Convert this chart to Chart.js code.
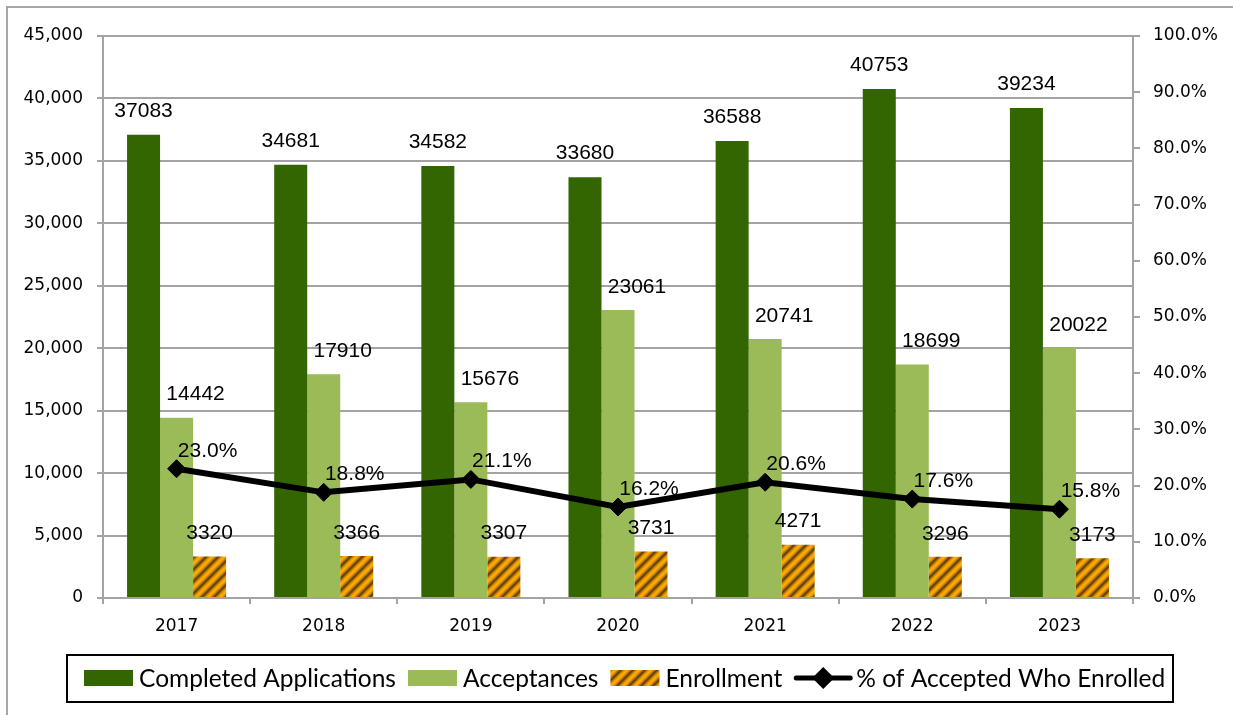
<!DOCTYPE html>
<html><head><meta charset="utf-8">
<script src="https://cdn.jsdelivr.net/npm/chart.js@4.4.1/dist/chart.umd.min.js"></script>
<style>html,body{margin:0;padding:0;background:#fff;overflow:hidden}canvas{display:block}</style>
</head><body>
<canvas id="c" width="1233" height="715"></canvas>
<script>
// ---- data ----
const categories = ['2017', '2018', '2019', '2020', '2021', '2022', '2023'];
const completedApplications = [37083, 34681, 34582, 33680, 36588, 40753, 39234];
const acceptances = [14442, 17910, 15676, 23061, 20741, 18699, 20022];
const enrollment = [3320, 3366, 3307, 3731, 4271, 3296, 3173];
const pctAcceptedWhoEnrolled = [23.0, 18.8, 21.1, 16.2, 20.6, 17.6, 15.8];
const seriesNames = ['Completed Applications', 'Acceptances', 'Enrollment', '% of Accepted Who Enrolled'];
const leftAxis = { min: 0, max: 45000, step: 5000 };
const rightAxis = { min: 0, max: 100, step: 10 };

// ---- styling ----
const GRID = '#a3a3a3';
const tickFont = { family: '"DejaVu Sans", Verdana, sans-serif', size: 17 };

function makeStripePattern() {
  const s = 12;
  const cv = document.createElement('canvas');
  cv.width = s; cv.height = s;
  const c = cv.getContext('2d');
  const img = c.createImageData(s, s);
  const orange = [255, 172, 0], dark = [95, 58, 0];
  for (let y = 0; y < s; y++) for (let x = 0; x < s; x++) {
    const t = ((x + y) % s) / s;
    const k = Math.pow(0.5 + 0.5 * Math.cos(2 * Math.PI * t), 0.6);
    const i = (y * s + x) * 4;
    for (let ch = 0; ch < 3; ch++) img.data[i + ch] = Math.round(dark[ch] + (orange[ch] - dark[ch]) * k);
    img.data[i + 3] = 255;
  }
  c.putImageData(img, 0, 0);
  return document.getElementById('c').getContext('2d').createPattern(cv, 'repeat');
}
const stripe = makeStripePattern();

const framePlugin = {
  id: 'frame',
  beforeDraw(chart) {
    const ctx = chart.ctx;
    ctx.save();
    ctx.fillStyle = '#fff';
    ctx.fillRect(0, 0, chart.width, chart.height);
    ctx.strokeStyle = '#a6a6a6';
    ctx.lineWidth = 2;
    ctx.beginPath();
    ctx.moveTo(7, 720); ctx.lineTo(7, 7); ctx.lineTo(1240, 7);
    ctx.stroke();
    ctx.restore();
  }
};

const valueLabels = {
  id: 'valueLabels',
  afterDatasetsDraw(chart, args, opts) {
    const ctx = chart.ctx;
    ctx.save();
    ctx.font = '21px "Liberation Sans", Arial, sans-serif';
    ctx.fillStyle = '#000';
    ctx.textAlign = 'center';
    ctx.textBaseline = 'middle';
    chart.data.datasets.forEach((ds, i) => {
      const meta = chart.getDatasetMeta(i);
      const off = opts.offsets[i];
      meta.data.forEach((el, j) => {
        const v = ds.data[j];
        const txt = ds.type === 'line' ? v.toFixed(1) + '%' : String(v);
        ctx.fillText(txt, el.x + off[0], el.y + off[1]);
      });
    });
    ctx.restore();
  }
};

const boxLegend = {
  id: 'boxLegend',
  afterDraw(chart) {
    const ctx = chart.ctx;
    ctx.save();
    ctx.strokeStyle = '#000';
    ctx.lineWidth = 2;
    ctx.strokeRect(67, 655, 1106, 47);
    const fam = 'Lato, "Open Sans", sans-serif';
    ctx.font = '100px ' + fam;
    const w = ctx.measureText(seriesNames[0]).width;
    const size = 100 * 257 / w;
    ctx.font = size.toFixed(2) + 'px ' + fam;
    ctx.textBaseline = 'middle';
    ctx.textAlign = 'left';
    const cy = 678;
    let x = 84;
    chart.data.datasets.forEach((ds) => {
      if (ds.type === 'line') {
        ctx.strokeStyle = '#000';
        ctx.lineWidth = 5;
        ctx.lineCap = 'round';
        ctx.beginPath(); ctx.moveTo(x + 2, cy); ctx.lineTo(x + 56, cy); ctx.stroke();
        const mx = x + 29, r = 11;
        ctx.fillStyle = '#000';
        ctx.beginPath();
        ctx.moveTo(mx - r, cy); ctx.lineTo(mx, cy - r); ctx.lineTo(mx + r, cy); ctx.lineTo(mx, cy + r);
        ctx.closePath(); ctx.fill();
        x += 62;
      } else {
        ctx.fillStyle = ds.backgroundColor;
        ctx.fillRect(x, cy - 8, 49, 16);
        x += 55;
      }
      ctx.fillStyle = '#000';
      ctx.fillText(ds.label, x, cy + 1);
      x += ctx.measureText(ds.label).width + 12;
    });
    ctx.restore();
  }
};

new Chart(document.getElementById('c'), {
  type: 'bar',
  data: {
    labels: categories,
    datasets: [
      { label: seriesNames[0], data: completedApplications, backgroundColor: '#336600', borderWidth: 0, order: 1, yAxisID: 'y' },
      { label: seriesNames[1], data: acceptances, backgroundColor: '#9bbb59', borderWidth: 0, order: 1, yAxisID: 'y' },
      { label: seriesNames[2], data: enrollment, backgroundColor: stripe, borderWidth: 0, order: 1, yAxisID: 'y' },
      { type: 'line', label: seriesNames[3], data: pctAcceptedWhoEnrolled, yAxisID: 'y1', order: 0,
        borderColor: '#000', borderWidth: 6, tension: 0, fill: false,
        pointStyle: 'rectRot', pointRadius: 9, pointBackgroundColor: '#000', pointBorderColor: '#000', pointBorderWidth: 1 }
    ]
  },
  options: {
    responsive: false,
    animation: false,
    events: [],
    datasets: { bar: { categoryPercentage: 0.673, barPercentage: 1.0 } },
    layout: { padding: { top: 36, left: 0, right: 0, bottom: 0 } },
    plugins: {
      legend: { display: false },
      tooltip: { enabled: false },
      valueLabels: { offsets: [[0, -24], [19, -23], [0, -23], [31, -18]] }
    },
    scales: {
      x: {
        grid: { offset: true, drawOnChartArea: false, drawTicks: true, tickLength: 6, color: GRID, lineWidth: 2 },
        border: { color: GRID, width: 2 },
        ticks: { font: tickFont, color: '#000', padding: 12 },
        afterFit(s) { s.height = 117; }
      },
      y: {
        position: 'left', min: leftAxis.min, max: leftAxis.max,
        ticks: { stepSize: leftAxis.step, callback: v => v.toLocaleString('en-US'), font: tickFont, color: '#000', padding: 14 },
        grid: { color: GRID, lineWidth: 2, tickLength: 6 },
        border: { color: GRID, width: 2 },
        afterFit(s) { s.width = 103; }
      },
      y1: {
        position: 'right', min: rightAxis.min, max: rightAxis.max,
        ticks: { stepSize: rightAxis.step, callback: v => v.toFixed(1) + '%', font: tickFont, color: '#000', padding: 13 },
        grid: { drawOnChartArea: false, tickLength: 7, color: GRID, lineWidth: 2 },
        border: { color: GRID, width: 2 },
        afterFit(s) { s.width = 100; }
      }
    }
  },
  plugins: [framePlugin, valueLabels, boxLegend]
});
</script>
</body></html>
